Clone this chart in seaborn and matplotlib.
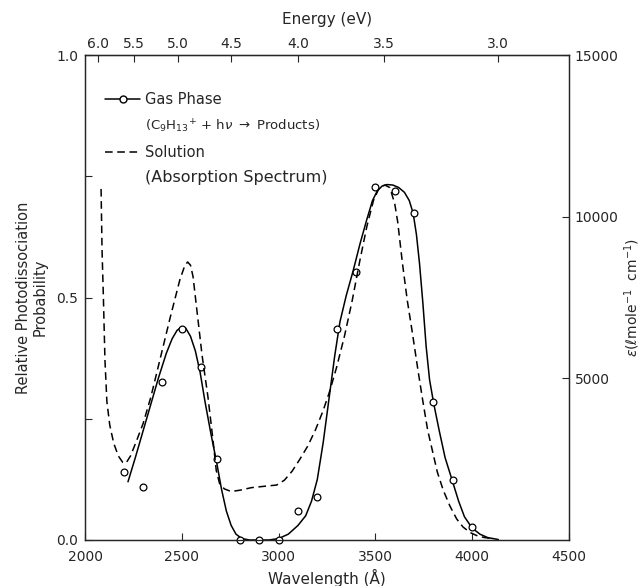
import matplotlib
matplotlib.use("Agg")
import matplotlib.pyplot as plt
from matplotlib.lines import Line2D
import numpy as np
import seaborn as sns

# gas phase photodissociation (measured points)
gas_wl = [2200, 2300, 2400, 2500, 2600, 2680, 2800, 2900, 3000, 3100, 3200,
          3300, 3400, 3500, 3600, 3700, 3800, 3900, 4000]
gas_prob = [0.14, 0.11, 0.325, 0.435, 0.357, 0.167, 0.0, 0.0, 0.0, 0.06, 0.089,
            0.435, 0.553, 0.728, 0.72, 0.674, 0.285, 0.124, 0.027]

# smooth curve drawn through the gas phase points
fit_wl = [2222, 2260, 2300, 2340, 2380, 2420, 2450, 2475, 2500, 2520, 2545,
          2570, 2595, 2620, 2650, 2680, 2705, 2730, 2755, 2780, 2810, 2850,
          2950, 3000, 3050, 3100, 3140, 3170, 3200, 3230, 3260, 3290, 3317,
          3350, 3385, 3420, 3455, 3485, 3510, 3535, 3560, 3590, 3620, 3650,
          3675, 3695, 3712, 3728, 3745, 3762, 3780, 3802, 3830, 3860, 3896,
          3930, 3960, 3999, 4040, 4080, 4135]
fit_prob = [0.12, 0.17, 0.225, 0.28, 0.335, 0.385, 0.415, 0.432, 0.44, 0.437,
            0.42, 0.39, 0.345, 0.285, 0.22, 0.16, 0.105, 0.06, 0.03, 0.012,
            0.003, 0.0, 0.0, 0.003, 0.012, 0.03, 0.05, 0.08, 0.125, 0.2, 0.29,
            0.38, 0.45, 0.505, 0.555, 0.61, 0.66, 0.70, 0.72, 0.73, 0.733,
            0.732, 0.727, 0.717, 0.70, 0.674, 0.63, 0.57, 0.49, 0.40, 0.33,
            0.28, 0.225, 0.17, 0.124, 0.08, 0.048, 0.025, 0.012, 0.005, 0.001]

# solution absorption spectrum (epsilon, l mole-1 cm-1)
sol_wl = [2083, 2088, 2095, 2103, 2113, 2128, 2148, 2172, 2195, 2212, 2235,
          2265, 2300, 2340, 2390, 2440, 2490, 2515, 2530, 2545, 2558, 2580,
          2605, 2635, 2660, 2678, 2695, 2720, 2755, 2800, 2860, 2940, 2990,
          3030, 3070, 3110, 3150, 3190, 3230, 3265, 3300, 3340, 3380, 3420,
          3456, 3490, 3520, 3549, 3575, 3600, 3615, 3640, 3665, 3690, 3720,
          3745, 3770, 3795, 3820, 3850, 3885, 3920, 3953, 3990, 4022, 4060, 4108]
sol_eps = [10860, 8970, 7500, 5570, 4280, 3550, 3000, 2600, 2400, 2380, 2600,
           3050, 3600, 4420, 5650, 6880, 8050, 8480, 8600, 8500, 8150, 7000,
           5700, 4430, 3150, 2150, 1750, 1580, 1500, 1540, 1620, 1670, 1700,
           1850, 2130, 2500, 2900, 3400, 4000, 4620, 5350, 6300, 7400, 8650,
           9700, 10500, 10900, 10980, 10900, 10400, 9850, 8550, 7400, 6450,
           5250, 4300, 3400, 2750, 2100, 1550, 1050, 650, 400, 230, 140, 80, 40]

energy_ticks = [6.0, 5.5, 5.0, 4.5, 4.0, 3.5, 3.0]
hc = 12398.4  # eV * Angstrom

sns.set_style("ticks")
plt.rcParams['font.family'] = ['DejaVu Sans']

fig = plt.figure(figsize=(6.44, 5.86), dpi=100)
ax = fig.add_axes([0.132, 0.0785, 0.7515, 0.8275])
ax2 = ax.twinx()

sns.lineplot(x=fit_wl, y=fit_prob, ax=ax, color='black', linewidth=1.1,
             estimator=None, sort=False)
sns.scatterplot(x=gas_wl, y=gas_prob, ax=ax, marker='o', s=24,
                facecolor='white', edgecolor='black', linewidth=0.9,
                zorder=3, clip_on=False)
sns.lineplot(x=sol_wl, y=sol_eps, ax=ax2, color='black', linewidth=1.1,
             linestyle=(0, (5, 3)), estimator=None, sort=False)

ax.set_xlim(2000, 4500)
ax.set_ylim(0, 1.0)
ax2.set_ylim(0, 15000)

ax.set_xticks([2000, 2500, 3000, 3500, 4000, 4500])
ax.set_yticks([0, 0.25, 0.5, 0.75, 1.0])
ax.set_yticklabels(['0.0', '', '0.5', '', '1.0'])
ax2.set_yticks([5000, 10000, 15000])
ax2.set_yticklabels(['5000', '10000', '15000'])

for a in (ax, ax2):
    a.tick_params(direction='in', length=5, width=0.8, labelsize=10, pad=4)
    for s in a.spines.values():
        s.set_linewidth(0.9)
ax.tick_params(axis='x', pad=7)
ax.tick_params(axis='y', pad=5)

ax.set_xlabel('Wavelength (Å)', fontsize=11, labelpad=4)
ax.set_ylabel('Relative Photodissociation\nProbability', fontsize=10.5,
              labelpad=6, linespacing=1.15)
ax2.set_ylabel(r'$\epsilon$($\ell$mole$^{-1}$  cm$^{-1}$)', fontsize=10,
               labelpad=3)

secax = ax.secondary_xaxis('top', functions=(lambda w: hc / w, lambda e: hc / e))
secax.set_xticks(energy_ticks)
secax.set_xticklabels([f'{e:.1f}' for e in energy_ticks])
secax.tick_params(direction='in', length=5, width=0.8, labelsize=10, pad=3)
secax.set_xlabel('Energy (eV)', fontsize=11, labelpad=9)

h_gas = Line2D([], [], color='black', linewidth=1.1, marker='o', markersize=5,
               markerfacecolor='white', markeredgecolor='black')
h_sol = Line2D([], [], color='black', linewidth=1.1, linestyle=(0, (5, 3)))
h_blank = Line2D([], [], linestyle='none')
leg = ax2.legend(handles=[h_gas, h_blank, h_sol, h_blank],
                 labels=['Gas Phase',
                         r'(C$_9$H$_{13}$$^{+}$ + h$\nu$ $\rightarrow$ Products)',
                         'Solution', '(Absorption Spectrum)'],
                 loc='upper left', bbox_to_anchor=(0.03, 0.935), frameon=False,
                 fontsize=10.5, handlelength=2.4, handletextpad=0.3,
                 labelspacing=0.7, borderaxespad=0, numpoints=1)
leg.get_texts()[1].set_fontsize(9.5)
leg.get_texts()[3].set_fontsize(11.5)

fig.savefig('out.png', dpi=100)
